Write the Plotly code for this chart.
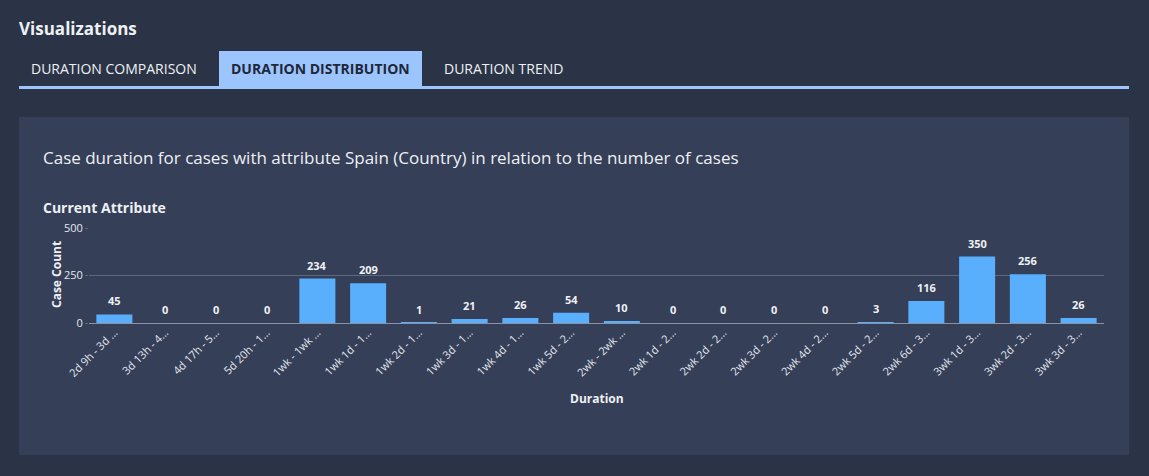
import plotly.graph_objects as go

categories = ["2d 9h - 3d …", "3d 13h - 4…", "4d 17h - 5…", "5d 20h - 1…", "1wk - 1wk …",
              "1wk 1d - 1…", "1wk 2d - 1…", "1wk 3d - 1…", "1wk 4d - 1…", "1wk 5d - 2…",
              "2wk - 2wk …", "2wk 1d - 2…", "2wk 2d - 2…", "2wk 3d - 2…", "2wk 4d - 2…",
              "2wk 5d - 2…", "2wk 6d - 3…", "3wk 1d - 3…", "3wk 2d - 3…", "3wk 3d - 3…"]
case_counts = [45, 0, 0, 0, 234, 209, 1, 21, 26, 54, 10, 0, 0, 0, 0, 3, 116, 350, 256, 26]
y_ticks = [0, 250, 500]

W, H = 1149, 476
ML, MR, MT, MB = 89, 45, 228, 153
PW, PH = W - ML - MR, H - MT - MB

def px(x):
    return (x - ML) / PW

def py(y):
    return 1 - (y - MT) / PH

BG = "#2b3446"
PANEL = "#353f58"
BAR = "#5aaffc"
TXT = "#eef0f4"
FONT = "Open Sans"

fig = go.Figure()
fig.add_trace(go.Bar(x=categories, y=case_counts, marker_color=BAR,
                     marker_line_width=0, hoverinfo="x+y"))

annotations = []
for c, v in zip(categories, case_counts):
    annotations.append(dict(x=c, y=v, xref="x", yref="y", text=f"<b>{v}</b>",
                            showarrow=False, yanchor="bottom", yshift=4,
                            font=dict(family=FONT, size=11, color=TXT)))

def label(x, y, text, size, color=TXT, xanchor="left", yanchor="middle", textangle=0):
    annotations.append(dict(x=px(x), y=py(y), xref="paper", yref="paper", text=text,
                            showarrow=False, xanchor=xanchor, yanchor=yanchor,
                            textangle=textangle,
                            font=dict(family=FONT, size=size, color=color)))

label(17, 28, "<b>Visualizations</b>", 17)
label(29, 69, "DURATION COMPARISON", 14)
label(229, 69, "<b>DURATION DISTRIBUTION</b>", 14, color="#1f2738")
label(442, 69, "DURATION TREND", 14)
label(41, 157, "Case duration for cases with attribute Spain (Country) in relation to the number of cases", 17)
label(41, 207, "<b>Current Attribute</b>", 14)
label(56, 275, "<b>Case Count</b>", 12, xanchor="center", textangle=-90)
label(597, 398, "<b>Duration</b>", 12, xanchor="center")

shapes = [
    dict(type="rect", xref="paper", yref="paper", x0=px(219), x1=px(422), y0=py(86), y1=py(51),
         fillcolor="#9cc5fe", line_width=0, layer="below"),
    dict(type="rect", xref="paper", yref="paper", x0=px(19), x1=px(1129), y0=py(89), y1=py(86),
         fillcolor="#9cc5fe", line_width=0, layer="below"),
    dict(type="rect", xref="paper", yref="paper", x0=px(19), x1=px(1129), y0=py(455), y1=py(117),
         fillcolor=PANEL, line_width=0, layer="below"),
]

fig.update_layout(
    width=W, height=H,
    margin=dict(l=ML, r=MR, t=MT, b=MB),
    paper_bgcolor=BG, plot_bgcolor=PANEL,
    bargap=0.29, showlegend=False,
    font=dict(family=FONT, color=TXT),
    annotations=annotations, shapes=shapes,
    xaxis=dict(tickangle=-45, tickfont=dict(size=11, color="#e4e7ee"), showgrid=False,
               showline=False, ticks="", fixedrange=True),
    yaxis=dict(range=[0, 500], tickvals=y_ticks, tickfont=dict(size=11, color="#e4e7ee"),
               gridcolor="#5e687d", gridwidth=1, zeroline=True, zerolinecolor="#8a92a4",
               zerolinewidth=1, ticks="outside", ticklen=3, tickcolor="#5e687d",
               ticklabelstandoff=0, fixedrange=True),
)

fig.write_html("out.html", config={"displayModeBar": False})
